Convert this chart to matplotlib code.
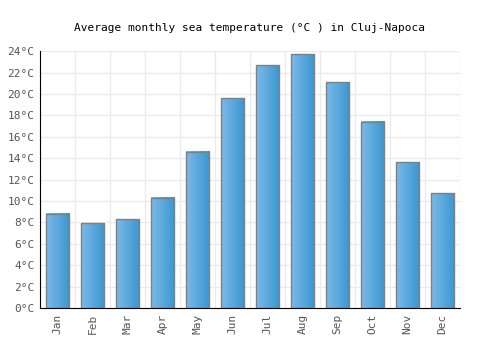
import matplotlib
matplotlib.use("Agg")
import matplotlib.pyplot as plt
import numpy as np
from matplotlib.colors import LinearSegmentedColormap

months = ["Jan", "Feb", "Mar", "Apr", "May", "Jun", "Jul", "Aug", "Sep", "Oct", "Nov", "Dec"]
temps = [8.8, 7.9, 8.3, 10.3, 14.6, 19.6, 22.7, 23.7, 21.1, 17.4, 13.6, 10.7]
yticks = list(range(0, 25, 2))
ytick_labels = [f"{t}°C" for t in yticks]

fig = plt.figure(figsize=(5, 3.5), dpi=100)
ax = fig.add_axes([0.08, 0.12, 0.84, 0.734])

cmap = LinearSegmentedColormap.from_list("bar", ["#7cb9ea", "#3a97cf"])
grad = np.linspace(0, 1, 64).reshape(1, -1)
w = 0.68
x = np.arange(len(months))
for xi, v in zip(x, temps):
    ax.imshow(grad, cmap=cmap, aspect="auto", extent=[xi - w / 2, xi + w / 2, 0, v],
              zorder=2, interpolation="bilinear")
ax.bar(x, temps, width=w, facecolor="none", edgecolor="#808080", linewidth=1.0, zorder=3)

ax.set_xlim(-0.5, len(months) - 0.5)
ax.set_ylim(0, 24)
ax.set_yticks(yticks)
ax.set_yticklabels(ytick_labels)
ax.set_xticks(x)
ax.set_xticklabels(months, rotation=90)
ax.set_xticks(np.arange(-0.5, len(months), 1), minor=True)
ax.grid(True, which="minor", axis="x", color="#ebebeb", linewidth=1, zorder=0)
ax.grid(True, which="major", axis="y", color="#ebebeb", linewidth=1, zorder=0)
ax.set_axisbelow(True)

for s in ["top", "right"]:
    ax.spines[s].set_visible(False)
ax.spines["left"].set_color("black")
ax.spines["bottom"].set_color("black")
ax.tick_params(axis="both", which="both", length=0, labelsize=8, labelcolor="#555555",
               pad=4)
for lab in ax.get_xticklabels() + ax.get_yticklabels():
    lab.set_family("DejaVu Sans Mono")

fig.suptitle("Average monthly sea temperature (°C ) in Cluj-Napoca", y=0.935,
             fontsize=8, family="DejaVu Sans Mono")

fig.savefig("out.png", dpi=100)
